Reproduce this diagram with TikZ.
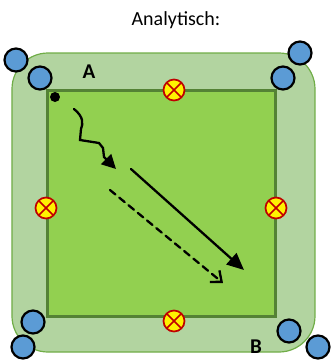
\documentclass[tikz,border=0pt]{standalone}
\usepackage{fontspec}
\setmainfont{Carlito}
\usetikzlibrary{arrows.meta}
\definecolor{fieldouter}{RGB}{178,212,160}
\definecolor{fieldouterline}{RGB}{112,173,71}
\definecolor{fieldinner}{RGB}{146,208,80}
\definecolor{fieldline}{RGB}{84,130,53}
\definecolor{playerblue}{RGB}{91,155,213}
\definecolor{markred}{RGB}{192,0,0}
\tikzset{
  player/.style={circle, draw=black, line width=2.2pt, fill=playerblue, minimum size=23pt, inner sep=0pt},
  cone/.style={circle, draw=markred, line width=1.7pt, fill=yellow, minimum size=21pt, inner sep=0pt,
    path picture={\draw[markred, line width=1.7pt]
      (path picture bounding box.south west) -- (path picture bounding box.north east)
      (path picture bounding box.north west) -- (path picture bounding box.south east);}},
  lbl/.style={font=\bfseries\fontsize{21}{21}\selectfont, inner sep=0pt},
  run/.style={line width=2.3pt, line cap=round},
}
\begin{document}
\begin{tikzpicture}[x=1pt, y=-1pt]
\useasboundingbox (0,0) rectangle (332,360);
% pitch: outer zone and inner field
\draw[fill=fieldouter, draw=fieldouterline, line width=1.2pt, rounded corners=36pt] (12,53) rectangle (315,352);
\draw[fill=fieldinner, draw=fieldline, line width=3pt] (48,90) rectangle (276,316);
% title
\node[font=\fontsize{20}{20}\selectfont, inner sep=0pt] (title) at (176,20) {Analytisch:};
% cones on the edges of the field
\node[cone] (c1) at (174,90) {};
\node[cone] (c2) at (46,208) {};
\node[cone] (c3) at (276,208) {};
\node[cone] (c4) at (174,321) {};
% players at the corners
\node[player] (p1) at (16,60) {};
\node[player] (p2) at (40,78) {};
\node[player] (p3) at (300,53) {};
\node[player] (p4) at (283,78) {};
\node[player] (p5) at (33,322) {};
\node[player] (p6) at (23,347) {};
\node[player] (p7) at (289,331) {};
\node[player] (p8) at (318,347) {};
% labels
\node[lbl] (la) at (89,72) {A};
\node[lbl] (lb) at (256,347) {B};
% ball
\node[circle, fill=black, minimum size=10pt, inner sep=0pt] (ball) at (55,97) {};
% dribbling path
\coordinate (d0) at (74,109);
\coordinate (d1) at (116,169);
\draw[run, -{Triangle[length=14pt,width=14pt]}] (d0) .. controls (84,117) and (83,124) .. (81,129)
  -- (80,140) -- (99,143) -- (103,148) -- (104,157) -- (d1);
% pass and run without ball
\coordinate (s0) at (131,169);
\coordinate (s1) at (244,270);
\draw[run, -{Triangle[length=17pt,width=15pt]}] (s0) -- (s1);
\coordinate (r0) at (110,190);
\coordinate (r1) at (223,283);
\draw[run, dash pattern=on 7pt off 5pt, -{Straight Barb[length=9pt,width=15pt]}] (r0) -- (r1);
\end{tikzpicture}
\end{document}
